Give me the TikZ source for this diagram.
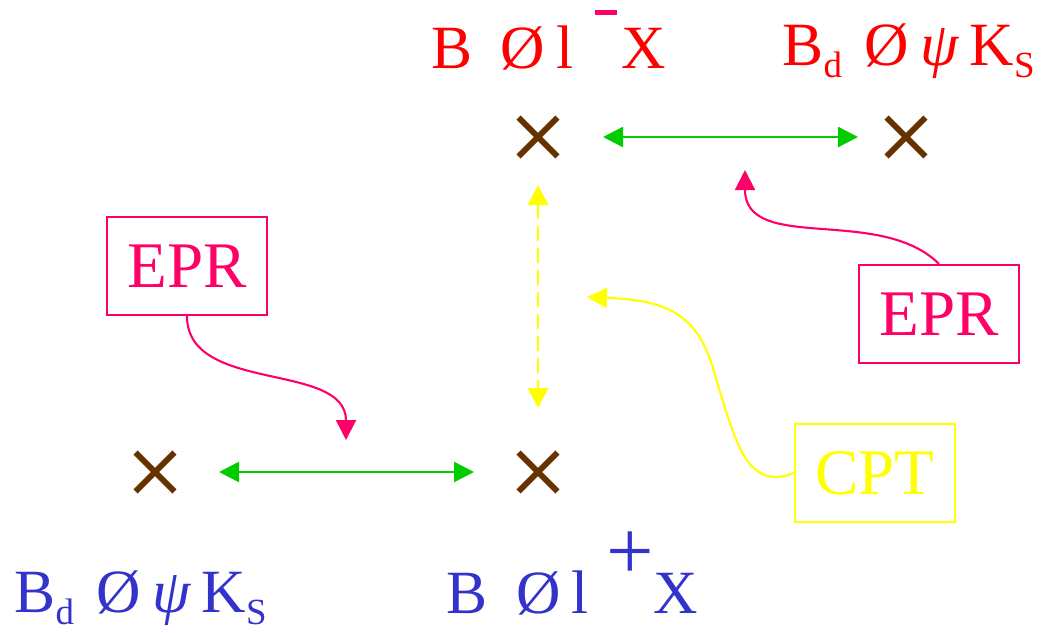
\documentclass[tikz,border=0pt]{standalone}
\usepackage{fontspec}
\setmainfont{Liberation Serif}
\usetikzlibrary{arrows.meta, shapes.misc}

\definecolor{redlbl}{HTML}{FF0000}
\definecolor{bluelbl}{HTML}{3333CC}
\definecolor{eprcol}{HTML}{FF0066}
\definecolor{cptcol}{HTML}{FFFF00}
\definecolor{linkcol}{HTML}{00CC00}
\definecolor{markcol}{HTML}{663300}

\newcommand{\lowidx}[1]{\raisebox{-1.2mm}{\fontsize{10.5}{12}\selectfont #1}}

\begin{document}
\begin{tikzpicture}[
    x=0.1mm, y=-0.1mm,
    statemark/.style={cross out, draw=markcol, line width=1.7pt, minimum size=3.3mm, inner sep=0pt},
    lbl/.style={anchor=base west, inner sep=0pt, font=\fontsize{17.5}{20}\selectfont},
    tagbox/.style={rectangle, draw, line width=0.6pt, minimum width=16mm, minimum height=9.8mm,
                   inner sep=0pt, font=\fontsize{18.5}{20}\selectfont},
    epr/.style={tagbox, draw=eprcol, text=eprcol},
    cpt/.style={tagbox, draw=cptcol, text=cptcol},
    link/.style={{Triangle[length=2mm, width=2mm]}-{Triangle[length=2mm, width=2mm]}, linkcol, line width=0.7pt},
    flip/.style={{Triangle[length=2mm, width=2mm]}-{Triangle[length=2mm, width=2mm]}, cptcol, line width=0.85pt,
                 dash pattern=on 1.5mm off 0.7mm},
    hint/.style={-{Triangle[length=2mm, width=2mm]}, line width=0.6pt},
]
    \useasboundingbox (0,0) rectangle (1052,634);

    % the four decay states
    \node[statemark] (xTL) at (538,137) {};
    \node[statemark] (xTR) at (906,137) {};
    \node[statemark] (xBL) at (155,472) {};
    \node[statemark] (xBR) at (538,472) {};

    \node[lbl, redlbl]  (lTL) at (431,68)  {B\hspace{2.8mm}Ø\hspace{1.1mm}l\hspace{2.2mm}\rlap{\raisebox{5.3mm}{\textcolor{eprcol}{\rule{2.2mm}{0.5mm}}}}\hspace{2.6mm}X};
    \node[lbl, redlbl]  (lTR) at (782,65)  {B\lowidx{d}\hspace{2.2mm}Ø\hspace{1.2mm}\textit{ψ}\hspace{1.0mm}K\lowidx{S}};
    \node[lbl, bluelbl] (lBL) at (14,612)  {B\lowidx{d}\hspace{2.2mm}Ø\hspace{1.2mm}\textit{ψ}\hspace{1.0mm}K\lowidx{S}};
    \node[lbl, bluelbl] (lBR) at (446,613) {B\hspace{2.9mm}Ø\hspace{1.0mm}l\hspace{1.8mm}\raisebox{3.4mm}{\fontsize{24}{24}\selectfont +}X};

    \draw[link] (xTL.center) -- (xTR.center) [shorten <=6.5mm, shorten >=4.8mm];
    \draw[link] (xBL.center) -- (xBR.center) [shorten <=6.4mm, shorten >=6.4mm];
    \draw[flip] (xTL.center) -- (xBR.center) [shorten <=4.8mm, shorten >=6.4mm];

    % annotations
    \node[epr] (eprL) at (187,266) {EPR};
    \node[epr] (eprR) at (939,314) {EPR};
    \node[cpt] (cptB) at (875,473) {CPT};

    \coordinate (tipL) at (346,440);
    \coordinate (tipR) at (745,170);
    \coordinate (tipC) at (587,297);

    \draw[hint, eprcol] (eprL.south) .. controls (187,394) and (346,361) .. (tipL);
    \draw[hint, eprcol] (eprR.north) .. controls (880,205) and (745,254) .. (tipR);
    \draw[hint, cptcol] (cptB.west) .. controls (745,492) and (735,440) .. (712,365)
                                    .. controls (695,310) and (660,300) .. (tipC);
\end{tikzpicture}
\end{document}
